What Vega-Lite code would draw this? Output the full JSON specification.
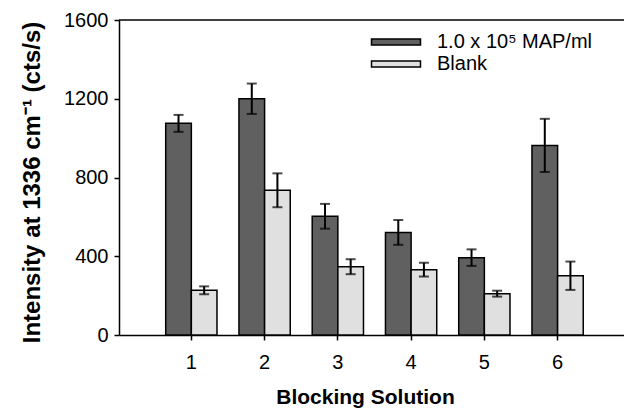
{
  "$schema": "https://vega.github.io/schema/vega-lite/v6.json",
  "width": 505,
  "height": 315,
  "autosize": "none",
  "padding": {"left": 119, "top": 20, "right": 0, "bottom": 84},
  "background": "white",
  "config": {
    "view": {"stroke": null},
    "font": "Liberation Sans",
    "axis": {
      "grid": false,
      "domainColor": "black",
      "domainWidth": 1.5,
      "tickColor": "black",
      "tickWidth": 1.5,
      "tickSize": 5,
      "labelColor": "black",
      "labelFont": "Liberation Sans",
      "labelFontSize": 20,
      "titleColor": "black",
      "titleFont": "Liberation Sans",
      "titleFontWeight": "bold",
      "titleFontSize": 21
    }
  },
  "datasets": {
    "blocking": [
      {"solution": "1", "sample": "1.0 x 10⁵ MAP/ml", "intensity": 1075, "lo": 1032, "hi": 1118},
      {"solution": "1", "sample": "Blank", "intensity": 227, "lo": 207, "hi": 247},
      {"solution": "2", "sample": "1.0 x 10⁵ MAP/ml", "intensity": 1200, "lo": 1123, "hi": 1277},
      {"solution": "2", "sample": "Blank", "intensity": 735, "lo": 649, "hi": 821},
      {"solution": "3", "sample": "1.0 x 10⁵ MAP/ml", "intensity": 603, "lo": 540, "hi": 666},
      {"solution": "3", "sample": "Blank", "intensity": 347, "lo": 309, "hi": 385},
      {"solution": "4", "sample": "1.0 x 10⁵ MAP/ml", "intensity": 521, "lo": 458, "hi": 584},
      {"solution": "4", "sample": "Blank", "intensity": 332, "lo": 297, "hi": 367},
      {"solution": "5", "sample": "1.0 x 10⁵ MAP/ml", "intensity": 393, "lo": 351, "hi": 435},
      {"solution": "5", "sample": "Blank", "intensity": 210, "lo": 195, "hi": 225},
      {"solution": "6", "sample": "1.0 x 10⁵ MAP/ml", "intensity": 963, "lo": 828, "hi": 1098},
      {"solution": "6", "sample": "Blank", "intensity": 301, "lo": 229, "hi": 373}
    ],
    "frame": [{"top": 1600}]
  },
  "layer": [
    {
      "data": {"name": "blocking"},
      "encoding": {
        "x": {
          "field": "solution",
          "type": "ordinal",
          "scale": {"paddingInner": 0.3, "paddingOuter": 0.597, "align": 0.534},
          "axis": {
            "title": "Blocking Solution",
            "labelAngle": 0,
            "labelPadding": 12,
            "titlePadding": 14,
            "titleX": 246
          }
        },
        "xOffset": {
          "field": "sample",
          "type": "nominal",
          "sort": ["1.0 x 10⁵ MAP/ml", "Blank"]
        }
      },
      "layer": [
        {
          "mark": {"type": "bar", "stroke": "black", "strokeWidth": 1.5},
          "encoding": {
            "y": {
              "field": "intensity",
              "type": "quantitative",
              "title": "Intensity at 1336 cm⁻¹ (cts/s)",
              "scale": {"domain": [0, 1600], "nice": false},
              "axis": {
                "values": [0, 400, 800, 1200, 1600],
                "format": "d",
                "labelPadding": 6,
                "titlePadding": 19,
                "titleFontSize": 24,
                "titleY": 162
              }
            },
            "fill": {
              "field": "sample",
              "type": "nominal",
              "scale": {
                "domain": ["1.0 x 10⁵ MAP/ml", "Blank"],
                "range": ["#606060", "#e0e0e0"]
              },
              "legend": {
                "title": null,
                "orient": "none",
                "legendX": 267,
                "legendY": 12,
                "symbolType": "M-4,-0.5H4V0.5H-4Z",
                "symbolSize": 150,
                "symbolStrokeColor": "black",
                "symbolStrokeWidth": 1.5,
                "symbolOpacity": 1,
                "labelFont": "Liberation Sans",
                "labelFontSize": 20,
                "labelColor": "black",
                "labelOffset": 31,
                "rowPadding": 2
              }
            }
          }
        },
        {
          "mark": {"type": "rule", "color": "black", "strokeWidth": 2},
          "encoding": {
            "y": {"field": "lo", "type": "quantitative", "title": "Intensity at 1336 cm⁻¹ (cts/s)"},
            "y2": {"field": "hi"}
          }
        },
        {
          "mark": {"type": "tick", "color": "black", "thickness": 2, "size": 10, "orient": "horizontal"},
          "encoding": {
            "y": {"field": "lo", "type": "quantitative", "title": "Intensity at 1336 cm⁻¹ (cts/s)"}
          }
        },
        {
          "mark": {"type": "tick", "color": "black", "thickness": 2, "size": 10, "orient": "horizontal"},
          "encoding": {
            "y": {"field": "hi", "type": "quantitative", "title": "Intensity at 1336 cm⁻¹ (cts/s)"}
          }
        }
      ]
    },
    {
      "data": {"name": "frame"},
      "mark": {"type": "rule", "color": "black", "strokeWidth": 1.5},
      "encoding": {
        "y": {"field": "top", "type": "quantitative", "title": "Intensity at 1336 cm⁻¹ (cts/s)"}
      }
    }
  ]
}
